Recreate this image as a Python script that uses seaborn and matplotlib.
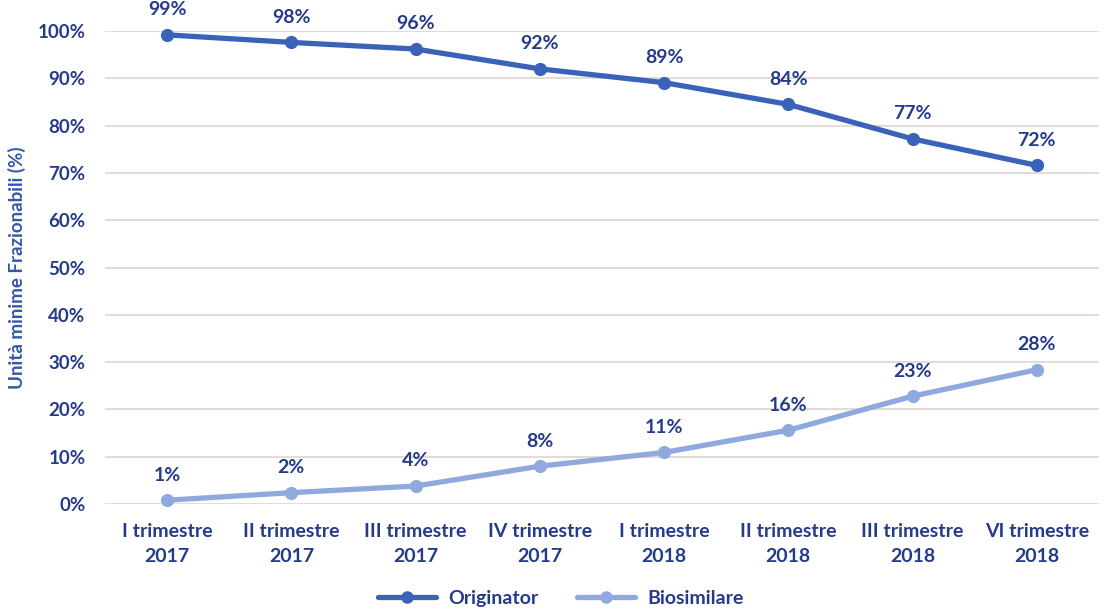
import matplotlib
matplotlib.use("Agg")
import matplotlib.pyplot as plt
import seaborn as sns
import pandas as pd
from matplotlib.lines import Line2D

categories = ["I trimestre\n2017", "II trimestre\n2017", "III trimestre\n2017", "IV trimestre\n2017",
              "I trimestre\n2018", "II trimestre\n2018", "III trimestre\n2018", "VI trimestre\n2018"]
originator = [99.2, 97.6, 96.2, 92.0, 89.1, 84.5, 77.2, 71.6]
biosimilare = [0.8, 2.4, 3.8, 8.0, 10.9, 15.6, 22.8, 28.4]
yticks = [0, 10, 20, 30, 40, 50, 60, 70, 80, 90, 100]

sns.set_theme(style="white")
plt.rcParams['font.family'] = ['Lato', 'DejaVu Sans']

c_orig = "#3A62B8"
c_bio = "#8FA8DE"
c_text = "#243A8A"

df = pd.DataFrame({
    "x": list(range(len(categories))) * 2,
    "val": originator + biosimilare,
    "serie": ["Originator"] * len(categories) + ["Biosimilare"] * len(categories),
})

fig = plt.figure(figsize=(11.1, 6.09), dpi=100)
ax = fig.add_axes([0.0946, 0.1724, 0.8954, 0.7766])

sns.lineplot(data=df, x="x", y="val", hue="serie", palette={"Originator": c_orig, "Biosimilare": c_bio},
             marker="o", markersize=9.5, linewidth=3.8, markeredgewidth=0, ax=ax, clip_on=False,
             legend=False)

for vals in (originator, biosimilare):
    for i, v in enumerate(vals):
        ax.annotate(f"{round(v):d}%", (i, v), xytext=(0, 12), textcoords="offset points",
                    ha="center", va="bottom", fontsize=14, fontweight="bold", color=c_text)

ax.set_xlim(-0.5, len(categories) - 0.5)
ax.set_ylim(0, 100)
ax.set_yticks(yticks)
ax.set_yticklabels([f"{t}%" for t in yticks], fontsize=13.5, fontweight="bold", color=c_text)
ax.set_xticks(range(len(categories)))
ax.set_xticklabels(categories, fontsize=14, fontweight="bold", color=c_text, linespacing=1.55)
ax.tick_params(axis="x", length=0, pad=14)
ax.tick_params(axis="y", length=0, pad=14)
ax.set_xlabel("")
ax.set_ylabel("Unità minime Frazionabili (%)", fontsize=13.5, fontweight="bold", color="#3557A8", labelpad=8)
ax.grid(axis="y", color="#DDD6D2", linewidth=1.2)
ax.set_axisbelow(True)
for s in ax.spines.values():
    s.set_visible(False)

handles = [Line2D([], [], color=c_orig, marker="o", markersize=9, linewidth=3.8, markeredgewidth=0),
           Line2D([], [], color=c_bio, marker="o", markersize=9, linewidth=3.8, markeredgewidth=0)]
leg = fig.legend(handles, ["Originator", "Biosimilare"], loc="center", bbox_to_anchor=(0.505, 0.018),
                 ncol=2, frameon=False, handlelength=3, columnspacing=2.0, handletextpad=0.6,
                 prop={"weight": "bold", "size": 14})
for t in leg.get_texts():
    t.set_color(c_text)

fig.savefig("out.png", dpi=100)
